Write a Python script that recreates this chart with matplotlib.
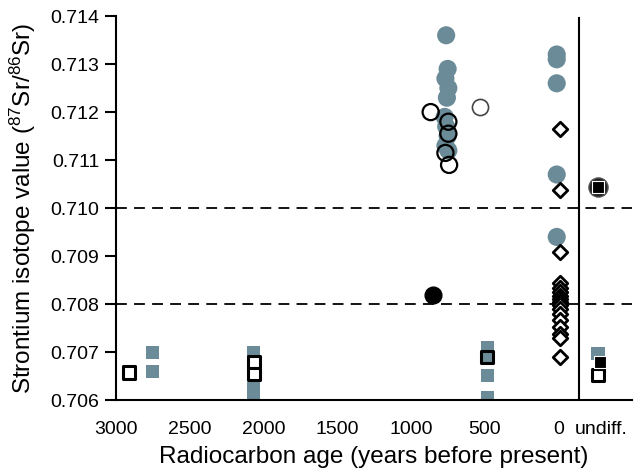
import matplotlib
matplotlib.use("Agg")
import matplotlib.pyplot as plt

plt.rcParams['font.family'] = ['Liberation Sans', 'DejaVu Sans']
plt.rcParams['mathtext.default'] = 'regular'

GREY = '#6a8b97'

# grey filled circles
grey_circ_x = [760, 750, 765, 745, 755, 770, 760, 750, 765, 745, 10, 10, 10, 10, 10]
grey_circ_y = [0.7136, 0.7129, 0.7127, 0.7125, 0.7123, 0.7119, 0.7117, 0.7115, 0.7113, 0.7112,
               0.7132, 0.7131, 0.7126, 0.7107, 0.7094]
# open black circles
open_circ_x = [865, 745, 745, 765, 740]
open_circ_y = [0.7120, 0.7118, 0.71155, 0.71115, 0.7109]
# open grey-edged circle
light_circ_x = [528]
light_circ_y = [0.7121]
# black filled circle
black_circ_x = [846]
black_circ_y = [0.7082]
# open diamonds
diam_y = [0.71165, 0.71038, 0.70908, 0.70844, 0.70833, 0.70825, 0.70817, 0.7081, 0.70804,
          0.70798, 0.7079, 0.70779, 0.70767, 0.70752, 0.70738, 0.70729, 0.7069]
diam_x = [-10] * len(diam_y)
# grey squares
grey_sq_x = [2750, 2750, 2065, 2065, 2065, 481, 481, 481, -270]
grey_sq_y = [0.7070, 0.7066, 0.7070, 0.70625, 0.70605, 0.7071, 0.70652, 0.70606, 0.70698]
# open black squares
open_sq_x = [2910, 2065, 2065, 481, -270]
open_sq_y = [0.70658, 0.7068, 0.70655, 0.7069, 0.70652]
open_sq_face = ['white', 'white', 'white', GREY, 'white']
# undiff black circle + black squares
undiff_circ_x = [-270]
undiff_circ_y = [0.71044]
black_sq_x = [-270, -285]
black_sq_y = [0.71044, 0.70679]

xticks = [3000, 2500, 2000, 1500, 1000, 500, 0, -290]
xticklabels = ['3000', '2500', '2000', '1500', '1000', '500', '0', 'undiff.']
yticks = [0.706, 0.707, 0.708, 0.709, 0.710, 0.711, 0.712, 0.713, 0.714]

fig = plt.figure(figsize=(6.37, 4.73), dpi=100)
ax = fig.add_axes([0.182, 0.154, 0.81, 0.812])

ax.scatter(grey_circ_x, grey_circ_y, s=170, c=GREY, edgecolors='none', zorder=2)
ax.scatter(open_circ_x, open_circ_y, s=135, facecolors='none', edgecolors='black', linewidths=1.6, zorder=3)
ax.scatter(light_circ_x, light_circ_y, s=135, facecolors='white', edgecolors='#444444', linewidths=1.2, zorder=3)
ax.scatter(black_circ_x, black_circ_y, s=145, c='black', zorder=3)
ax.scatter(grey_sq_x, grey_sq_y, s=90, marker='s', c=GREY, edgecolors='none', zorder=2)
ax.scatter(open_sq_x, open_sq_y, s=80, marker='s', facecolors=open_sq_face, edgecolors='black', linewidths=2.2, zorder=3)
ax.scatter(undiff_circ_x, undiff_circ_y, s=190, c='#222222', edgecolors='#555555', zorder=3)
ax.scatter(black_sq_x, black_sq_y, s=70, marker='s', c='black', edgecolors='white', linewidths=0.8, zorder=4)
ax.scatter(diam_x, diam_y, s=55, marker='D', facecolors='white', edgecolors='black', linewidths=2.0, zorder=4)

ax.axhline(0.710, color='black', lw=1.3, ls=(0, (6, 4)), zorder=1)
ax.axhline(0.708, color='black', lw=1.3, ls=(0, (6, 4)), zorder=1)
ax.axvline(-142, ymax=0.995, color='black', lw=1.5, zorder=1)

ax.set_xlim(3000, -500)
ax.set_ylim(0.706, 0.714)
ax.set_xticks(xticks)
ax.set_xticklabels(xticklabels)
ax.set_yticks(yticks)
ax.set_yticklabels([f'{v:.3f}' for v in yticks])

for s in ['top', 'right']:
    ax.spines[s].set_visible(False)
ax.spines['left'].set_linewidth(1.5)
ax.spines['bottom'].set_linewidth(1.5)
ax.tick_params(axis='y', length=8, width=1.5, labelsize=14, pad=4)
ax.tick_params(axis='x', length=0, labelsize=14, pad=15)

ax.set_xlabel('Radiocarbon age (years before present)', fontsize=17.5, labelpad=6)
ax.set_ylabel('Strontium isotope value ($^{87}$Sr/$^{86}$Sr)', fontsize=17.5, labelpad=9)

fig.savefig('out.png', dpi=100)
